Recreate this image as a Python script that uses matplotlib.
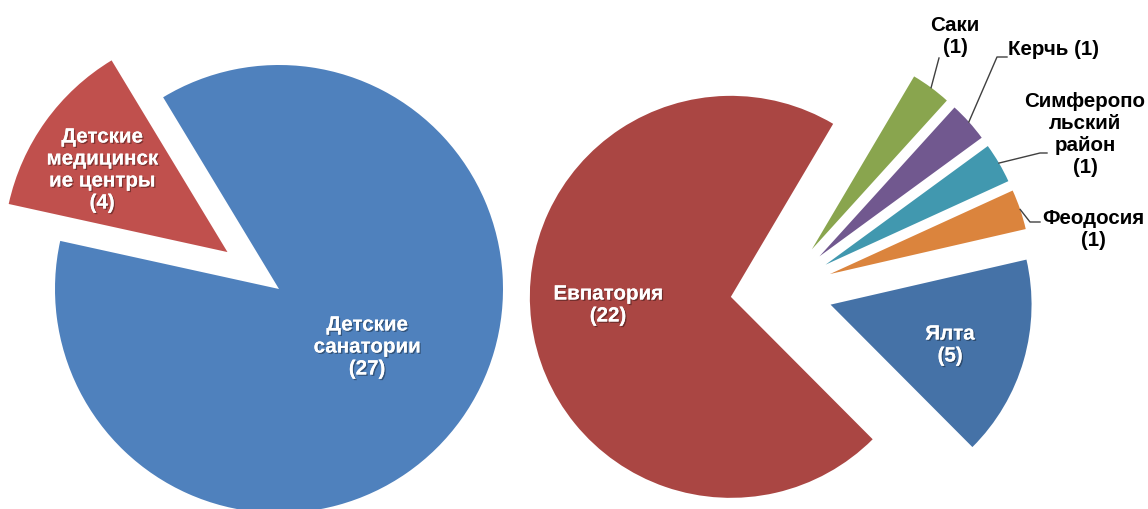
import matplotlib
matplotlib.use('Agg')
import numpy as np
import matplotlib.pyplot as plt
import matplotlib.patheffects as pe

# Left pie: type of institution
left_labels = ['Детские\nсанатории\n(27)', 'Детские\nмедицинск\nие центры\n(4)']
left_values = [27, 4]
left_colors = ['#4F81BD', '#C0504D']

# Right pie: city
right_labels = ['Евпатория\n(22)', 'Ялта\n(5)', 'Феодосия\n(1)',
                'Симферопо\nльский\nрайон\n(1)', 'Керчь (1)', 'Саки\n(1)']
right_values = [22, 5, 1, 1, 1, 1]
right_colors = ['#AA4643', '#4572A7', '#DB843D', '#4198AF', '#71588F', '#89A54E']

W, H = 1148, 509


def px(x, y):
    # picture pixels (y down) -> data coords (y up)
    return x, H - y


fig = plt.figure(figsize=(W / 100, H / 100), dpi=100)
ax = fig.add_axes([0, 0, 1, 1])

font = dict(family='Liberation Sans', fontsize=14.8, fontweight='bold',
            ha='center', va='center', linespacing=1.2)
shadow = [pe.withSimplePatchShadow(offset=(1, -1), shadow_rgbFace='black', alpha=0.35),
          pe.Normal()]

# left pie
r1 = 224
wl, _ = ax.pie(left_values, colors=left_colors, startangle=167.6, counterclock=True,
               radius=r1, center=px(279, 289), explode=[0, 0.283 * r1],
               wedgeprops=dict(linewidth=0), frame=True)

# right pie, every slice pulled out
r2 = 201
wr, _ = ax.pie(right_values, colors=right_colors, startangle=59.4, counterclock=True,
               radius=r2, center=px(781.5, 290.5), explode=[0.254 * r2] * 6,
               wedgeprops=dict(linewidth=0), frame=True)
ax.set_xlim(0, W)
ax.set_ylim(0, H)
ax.set_aspect('equal')
ax.axis('off')

# labels inside slices (white)
inside = [(left_labels[0], (367, 347)), (left_labels[1], (102, 170)),
          (right_labels[0], (608, 305)), (right_labels[1], (950, 345))]
for txt, (x, y) in inside:
    ax.text(*px(x, y), txt, color='white', path_effects=shadow, **font)

# labels outside with leader lines
outside = [(2, (1093, 229), [(1030, 222), (1040, 222)]),
           (3, (1085, 134), [(1040, 153), (1047, 153)]),
           (4, (1053, 49), [(997, 57), (1007, 57)]),
           (5, (955, 36), [(939, 58)])]
for i, (x, y), elbow in outside:
    w = wr[i]
    tm = np.deg2rad((w.theta1 + w.theta2) / 2)
    sx = w.center[0] + w.r * np.cos(tm)
    sy = w.center[1] + w.r * np.sin(tm)
    xs = [sx] + [p[0] for p in elbow]
    ys = [sy] + [H - p[1] for p in elbow]
    ax.plot(xs, ys, color='#404040', lw=1)
    ax.text(*px(x, y), right_labels[i], color='black', **font)

fig.savefig('out.png', dpi=100, facecolor='white')
